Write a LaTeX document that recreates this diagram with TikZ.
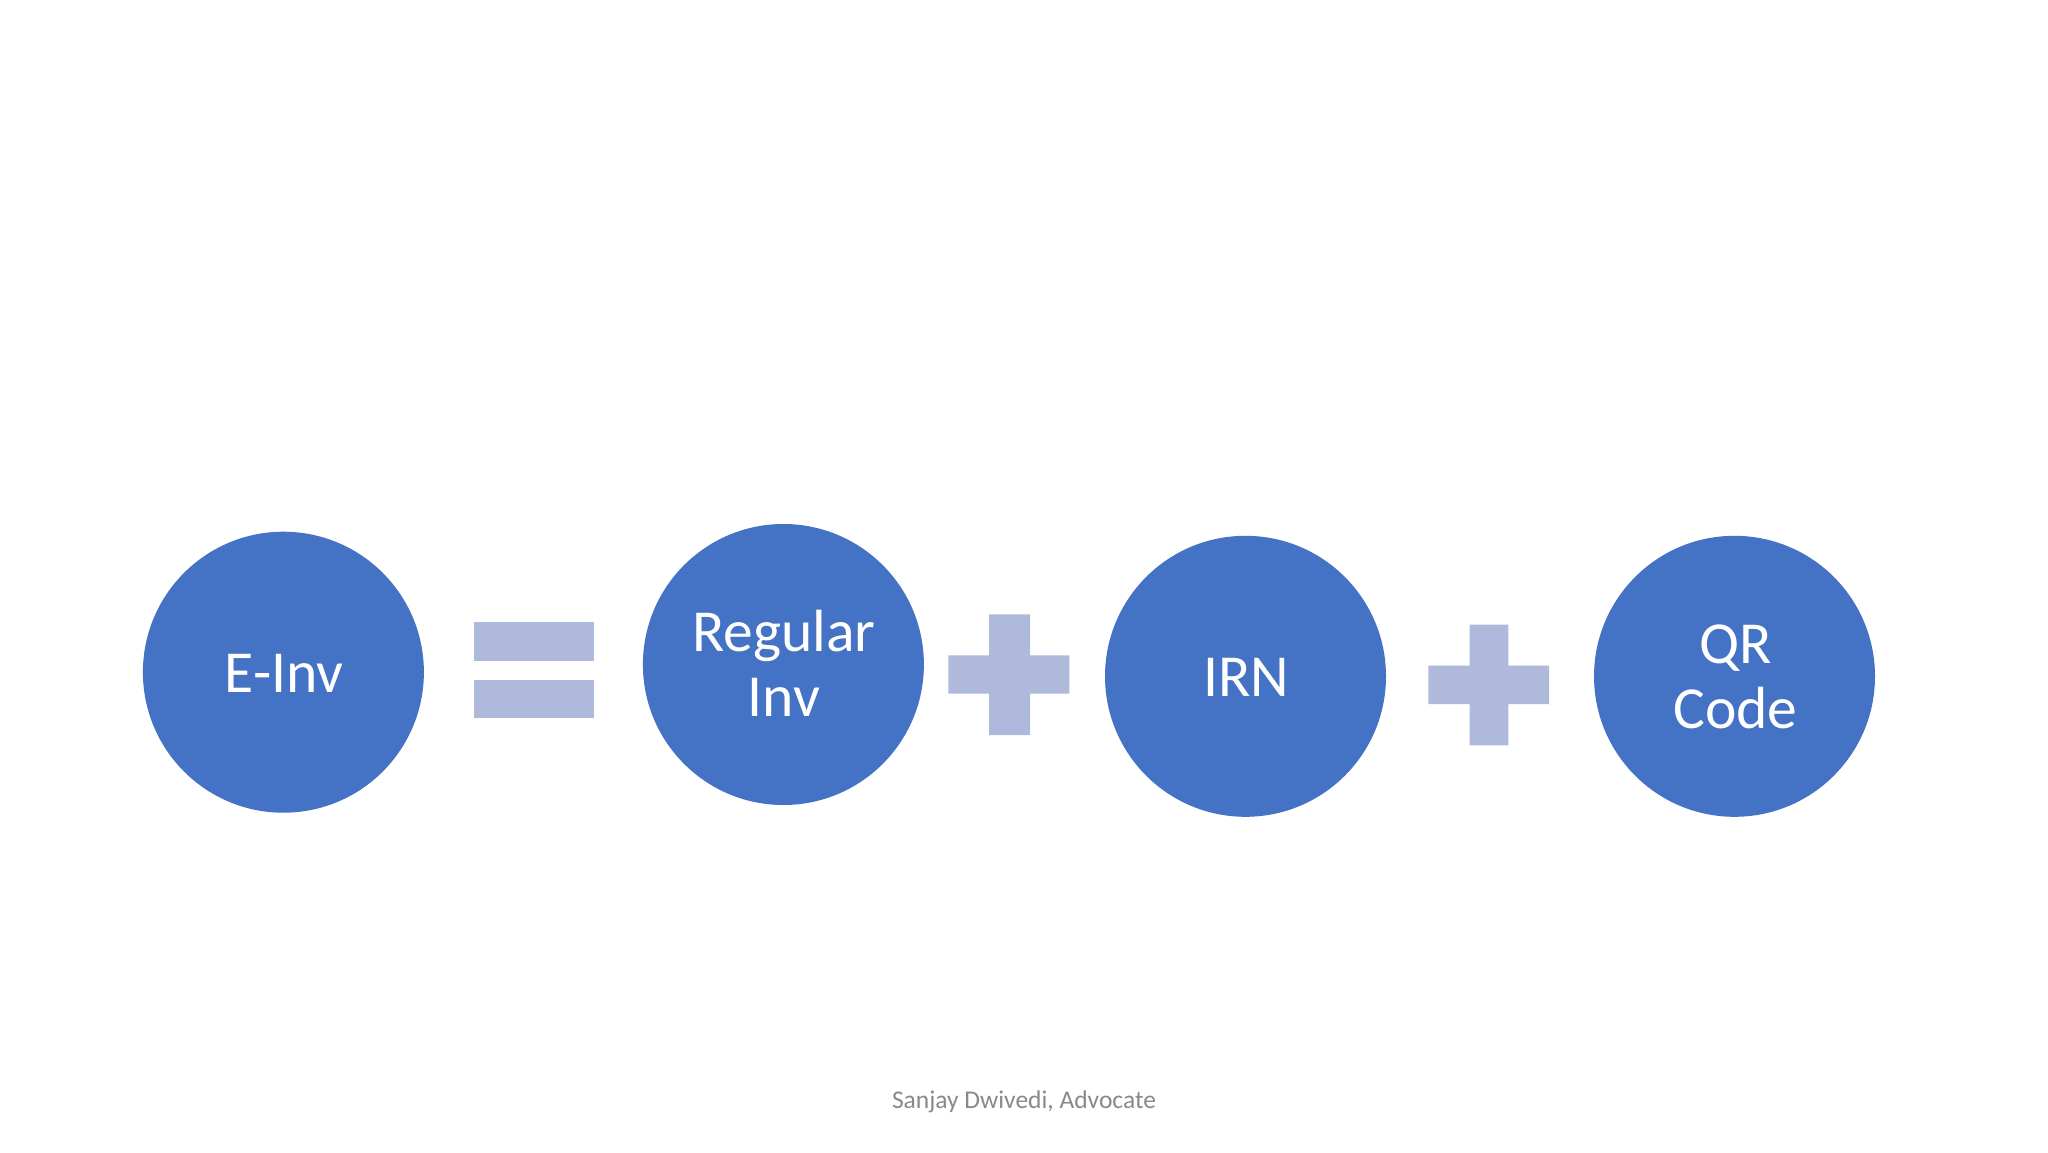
\documentclass[tikz,border=0pt]{standalone}
\usepackage{fontspec}
\setmainfont{Carlito}
\definecolor{disc}{HTML}{4472C4}
\definecolor{sym}{HTML}{AFB9DC}
\definecolor{foot}{HTML}{898989}
\tikzset{
  disc/.style={circle,fill=disc,draw=none,inner sep=0pt,minimum size=281pt},
  disctext/.style={inner sep=0pt,text=white,align=center,xshift=1pt,yshift=-1pt,
    font=\fontsize{59.6pt}{65pt}\selectfont},
  symb/.style={fill=sym,draw=none},
}
\begin{document}
\begin{tikzpicture}[x=1pt,y=-1pt]
\useasboundingbox (0,0) rectangle (2048,1152);
\fill[white] (0,0) rectangle (2048,1152);
\node[disc] (einv) at (283.4,672.2) {};
\node[disctext] (einvtext) at (einv) {E-Inv};
\node[disc] (reg) at (783.4,664.5) {};
\node[disctext,yshift=2pt,xshift=-0.5pt] (regtext) at (reg) {Regular\\Inv};
\node[disc] (irn) at (1245.5,676.3) {};
\node[disctext] (irntext) at (irn) {IRN};
\node[disc] (qr) at (1734.5,676.3) {};
\node[disctext] (qrtext) at (qr) {QR\\Code};
% equals
\fill[symb] (474.2,622) rectangle (594.2,660.7);
\fill[symb] (474.2,680) rectangle (594.2,718.3);
% plus 1
\fill[symb] (948.4,655.3) -- (989,655.3) -- (989,614.3) -- (1030,614.3) -- (1030,655.3) -- (1069.4,655.3)
  -- (1069.4,693.7) -- (1030,693.7) -- (1030,735) -- (989,735) -- (989,693.7) -- (948.4,693.7) -- cycle;
% plus 2
\fill[symb] (1428.3,665.7) -- (1469.6,665.7) -- (1469.6,624.7) -- (1508.3,624.7) -- (1508.3,665.7) -- (1549,665.7)
  -- (1549,704) -- (1508.3,704) -- (1508.3,745.3) -- (1469.6,745.3) -- (1469.6,704) -- (1428.3,704) -- cycle;
\node[text=foot,font=\fontsize{25.5pt}{28pt}\selectfont,anchor=base,inner sep=0pt] (footer) at (1024,1108.5) {Sanjay Dwivedi, Advocate};
\end{tikzpicture}
\end{document}
